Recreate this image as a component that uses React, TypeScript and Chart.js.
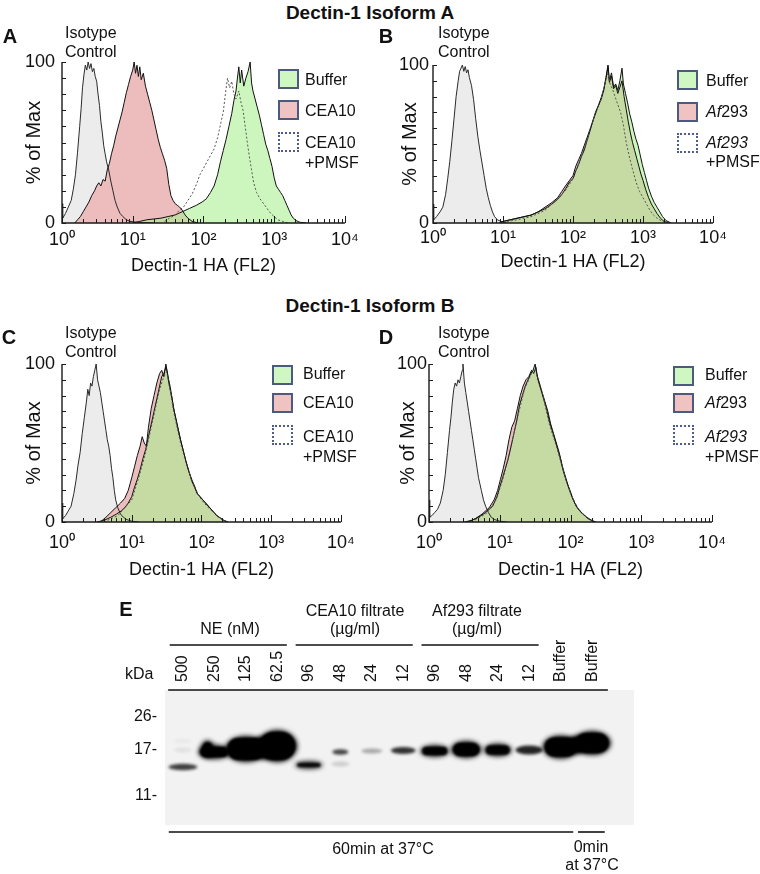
import React, { useEffect, useRef } from 'react';
import { Chart, registerables } from 'chart.js';
Chart.register(...registerables);

const FONT = '"Liberation Sans", Arial, Helvetica, sans-serif';
Chart.defaults.font.family = FONT;

// ---------- Flow cytometry histograms: [log10(FL2), % of Max] ----------
const A_ISO = [[0,12],[0.01,3],[0.05,6],[0.09,10],[0.13,14],[0.16,21],[0.19,30],[0.22,44],[0.25,60],[0.27,71],[0.29,84],[0.31,92],[0.33,98],[0.35,95],[0.37,100],[0.39,96],[0.41,99],[0.43,94],[0.45,96],[0.47,91],[0.49,88],[0.51,80],[0.53,73],[0.55,63],[0.57,56],[0.59,48],[0.61,43],[0.63,38],[0.66,33],[0.69,26],[0.72,20],[0.75,14],[0.78,10],[0.82,6],[0.86,4],[0.91,2],[0.96,1],[1.05,0.5],[1.3,0]];
const A_CEA = [[0.18,0],[0.22,2],[0.26,4],[0.3,7],[0.34,10],[0.38,13],[0.42,17],[0.46,20],[0.49,23],[0.52,25],[0.55,23],[0.58,27],[0.61,26],[0.64,33],[0.67,37],[0.7,43],[0.73,48],[0.76,54],[0.79,59],[0.82,64],[0.85,69],[0.88,75],[0.91,81],[0.94,86],[0.97,91],[1.0,95],[1.02,100],[1.04,93],[1.06,98],[1.08,91],[1.1,97],[1.12,89],[1.15,93],[1.18,85],[1.21,80],[1.24,75],[1.27,70],[1.3,64],[1.33,58],[1.36,52],[1.39,47],[1.42,43],[1.45,39],[1.48,34],[1.51,24],[1.54,17],[1.57,14],[1.6,12],[1.63,11],[1.66,10],[1.7,8],[1.74,5],[1.78,3],[1.84,1],[1.92,0]];
const A_BUF = [[1.0,0],[1.1,1],[1.2,2],[1.3,2.5],[1.4,3],[1.5,4],[1.6,5],[1.7,7],[1.8,9],[1.9,11],[1.98,13],[2.04,15],[2.1,19],[2.15,23],[2.2,30],[2.24,38],[2.28,45],[2.32,52],[2.36,60],[2.4,68],[2.43,76],[2.46,82],[2.48,90],[2.5,97],[2.52,87],[2.54,95],[2.57,85],[2.6,90],[2.63,94],[2.66,100],[2.68,87],[2.7,82],[2.73,77],[2.76,72],[2.79,67],[2.82,61],[2.85,55],[2.88,49],[2.91,45],[2.94,40],[2.97,35],[3.0,28],[3.03,23],[3.06,21],[3.09,19],[3.12,17],[3.15,14],[3.18,11],[3.21,8],[3.24,5],[3.27,3],[3.31,1.5],[3.36,0.5],[3.45,0]];
const A_PMSF = [[1.45,1],[1.52,3],[1.6,5],[1.66,8],[1.72,10],[1.78,14],[1.84,18],[1.9,24],[1.95,30],[2.0,34],[2.05,38],[2.1,42],[2.15,46],[2.2,53],[2.24,61],[2.28,69],[2.31,80],[2.34,90],[2.37,84],[2.4,88],[2.43,80],[2.46,77],[2.5,82],[2.53,75],[2.56,70],[2.59,60],[2.62,50],[2.65,41],[2.68,33],[2.71,25],[2.75,19],[2.8,15],[2.85,12],[2.9,9],[2.95,6],[3.0,4],[3.05,2],[3.12,1],[3.2,0]];

const B_ISO = [[0,12],[0.01,2],[0.05,4],[0.1,7],[0.14,10],[0.18,18],[0.21,28],[0.24,39],[0.27,52],[0.3,66],[0.33,80],[0.36,90],[0.38,96],[0.4,98],[0.42,100],[0.44,96],[0.46,99],[0.48,95],[0.5,97],[0.52,92],[0.55,87],[0.58,78],[0.61,66],[0.64,55],[0.67,46],[0.7,38],[0.73,30],[0.76,22],[0.79,16],[0.82,11],[0.85,7],[0.88,4],[0.92,2],[0.97,1],[1.05,0]];
const B_BUF = [[0.95,0],[1.0,1],[1.1,2],[1.2,3],[1.3,4],[1.4,5],[1.5,7],[1.6,9],[1.7,12],[1.78,15],[1.84,18],[1.9,22],[1.95,26],[2.0,28],[2.04,33],[2.08,37],[2.12,42],[2.16,46],[2.2,52],[2.24,58],[2.28,64],[2.32,70],[2.36,74],[2.4,78],[2.44,84],[2.47,92],[2.5,100],[2.52,90],[2.55,95],[2.58,86],[2.61,88],[2.64,84],[2.67,90],[2.7,98],[2.72,88],[2.75,82],[2.78,76],[2.81,69],[2.84,64],[2.87,58],[2.9,53],[2.93,49],[2.96,43],[2.99,37],[3.02,32],[3.05,27],[3.08,22],[3.12,17],[3.16,13],[3.2,10],[3.24,7],[3.28,4],[3.33,1.5],[3.4,0]];
const B_AF = [[0.95,0],[1.0,1],[1.1,2],[1.2,3],[1.3,4],[1.4,5],[1.5,7],[1.6,10],[1.7,13],[1.78,16],[1.84,20],[1.9,24],[1.95,27],[2.0,30],[2.04,36],[2.08,40],[2.12,44],[2.16,49],[2.2,54],[2.24,59],[2.28,64],[2.32,69],[2.36,74],[2.4,79],[2.44,85],[2.47,91],[2.5,99],[2.52,89],[2.55,93],[2.58,85],[2.61,87],[2.64,82],[2.67,86],[2.7,90],[2.73,80],[2.76,72],[2.79,64],[2.82,57],[2.85,51],[2.88,46],[2.91,41],[2.94,36],[2.97,31],[3.0,27],[3.04,21],[3.08,16],[3.12,12],[3.16,9],[3.2,6],[3.25,3],[3.3,1],[3.38,0]];
const B_PMSF = [[1.0,0.5],[1.2,2],[1.4,4],[1.6,8],[1.75,14],[1.9,21],[2.0,28],[2.1,40],[2.2,52],[2.3,67],[2.4,78],[2.46,89],[2.5,95],[2.53,88],[2.57,84],[2.6,80],[2.64,75],[2.68,70],[2.72,62],[2.76,51],[2.8,43],[2.85,34],[2.9,26],[2.95,20],[3.0,16],[3.05,12],[3.1,8],[3.15,5],[3.2,3],[3.28,1],[3.35,0]];

const C_ISO = [[0,12],[0.01,2],[0.05,4],[0.09,7],[0.13,10],[0.17,18],[0.2,26],[0.23,36],[0.26,44],[0.29,56],[0.32,66],[0.35,76],[0.37,84],[0.39,80],[0.41,88],[0.43,86],[0.45,92],[0.47,96],[0.49,100],[0.51,90],[0.53,86],[0.55,82],[0.57,76],[0.59,70],[0.61,64],[0.63,58],[0.65,52],[0.67,48],[0.69,42],[0.71,34],[0.73,28],[0.75,20],[0.77,14],[0.8,9],[0.84,5],[0.88,3],[0.93,1.5],[1.0,0.5],[1.1,0]];
const C_BUF = [[0.5,0],[0.6,1],[0.7,3],[0.78,5],[0.85,7],[0.9,9],[0.95,12],[1.0,16],[1.04,22],[1.08,27],[1.12,33],[1.16,40],[1.2,46],[1.24,54],[1.28,62],[1.32,70],[1.36,78],[1.4,86],[1.43,92],[1.46,94],[1.49,98],[1.51,95],[1.54,86],[1.57,80],[1.6,72],[1.63,66],[1.66,60],[1.7,52],[1.74,45],[1.78,38],[1.82,32],[1.86,26],[1.9,22],[1.94,18],[1.98,16],[2.02,14],[2.06,12],[2.1,10],[2.14,8],[2.18,6],[2.22,4],[2.27,2.5],[2.32,1],[2.38,0]];
const C_CEA = [[0.55,0],[0.63,3],[0.7,6],[0.77,9],[0.84,12],[0.9,15],[0.95,20],[1.0,28],[1.04,35],[1.08,42],[1.12,48],[1.15,54],[1.18,50],[1.21,48],[1.24,60],[1.28,72],[1.32,80],[1.36,88],[1.4,94],[1.43,96],[1.46,92],[1.49,100],[1.52,92],[1.55,86],[1.58,78],[1.61,70],[1.64,64],[1.67,58],[1.7,52],[1.74,45],[1.78,38],[1.82,32],[1.86,27],[1.9,23],[1.94,18],[1.98,16],[2.02,14],[2.06,12],[2.1,10],[2.14,8],[2.18,6],[2.22,4],[2.27,2.5],[2.32,1],[2.38,0]];
const C_PMSF = [[0.6,0],[0.8,4],[1.0,14],[1.1,28],[1.2,44],[1.3,64],[1.4,84],[1.46,92],[1.5,95],[1.55,84],[1.6,70],[1.7,50],[1.8,34],[1.9,22],[2.0,14],[2.1,9],[2.2,5],[2.3,1.5],[2.38,0]];

const D_ISO = [[0,14],[0.01,3],[0.04,4],[0.08,6],[0.12,8],[0.16,12],[0.2,20],[0.23,30],[0.26,44],[0.29,58],[0.31,66],[0.33,76],[0.35,84],[0.37,88],[0.39,86],[0.41,90],[0.43,88],[0.45,92],[0.47,96],[0.48,100],[0.5,88],[0.52,82],[0.54,76],[0.56,70],[0.58,64],[0.6,58],[0.62,52],[0.64,46],[0.66,40],[0.68,34],[0.7,28],[0.72,24],[0.74,20],[0.77,14],[0.8,10],[0.84,6],[0.88,3],[0.93,1.5],[1.0,0.5],[1.1,0]];
const D_BUF = [[0.5,0],[0.6,1],[0.7,3],[0.8,6],[0.9,10],[0.96,16],[1.0,22],[1.04,28],[1.08,34],[1.12,40],[1.16,48],[1.2,56],[1.24,64],[1.28,74],[1.32,80],[1.36,86],[1.4,90],[1.44,94],[1.47,96],[1.5,100],[1.53,92],[1.56,88],[1.6,82],[1.64,76],[1.68,70],[1.72,62],[1.76,56],[1.8,50],[1.84,44],[1.88,36],[1.92,30],[1.96,24],[2.0,19],[2.04,14],[2.08,10],[2.13,7],[2.18,5],[2.23,3],[2.28,1.5],[2.34,0]];
const D_AF = [[0.55,0],[0.65,2],[0.75,5],[0.85,9],[0.92,14],[0.97,20],[1.01,27],[1.05,34],[1.09,42],[1.13,52],[1.17,60],[1.21,64],[1.25,72],[1.29,80],[1.33,86],[1.37,90],[1.41,92],[1.45,96],[1.48,94],[1.51,98],[1.54,90],[1.58,84],[1.62,78],[1.66,72],[1.7,64],[1.74,58],[1.78,52],[1.82,46],[1.86,40],[1.9,32],[1.94,26],[1.98,21],[2.02,16],[2.06,12],[2.1,9],[2.15,6],[2.2,4],[2.25,2],[2.3,1],[2.36,0]];
const D_PMSF = [[0.6,0],[0.8,5],[0.95,14],[1.05,28],[1.15,46],[1.25,66],[1.35,84],[1.45,94],[1.5,97],[1.55,90],[1.62,78],[1.7,62],[1.8,48],[1.9,32],[2.0,18],[2.1,9],[2.2,4],[2.3,1],[2.36,0]];

const Y_TICKS = [0, 10, 20, 30, 40, 50, 60, 70, 80, 90, 100];
const X_MIN = 1;
const X_MAX = 10000;
const SUP = ['\u2070', '\u00B9', '\u00B2', '\u00B3', '\u2074'];

// ---------- Western blot (panel E) ----------
const LANE_LABELS = ['500', '250', '125', '62.5', '96', '48', '24', '12', '96', '48', '24', '12', 'Buffer', 'Buffer'];
const MARKER_KDA = ['26', '17', '11'];
const MARKER_POS = [27, 60, 106]; // migration units from blot top
const GROUP_RANGES = [[0, 3], [4, 7], [8, 11]];
const TIME_RANGES = [[0, 12], [13, 13]];
// bands: lane, migration, lateral spread (lanes), vertical spread (migration), density
const BAND_LANE = [0, 0, 0, 1, 0.78, 2, 3, 2.55, 4, 5, 5, 6, 7, 8, 9, 10, 11, 12, 13, 12.5];
const BAND_MIG = [77, 60, 51, 62, 59, 59, 56, 58, 75, 62, 74, 61, 60.5, 61, 59.5, 60, 60, 57, 53, 55];
const BAND_SPREAD_X = [0.85, 0.5, 0.5, 0.95, 0.35, 1.25, 1.2, 0.8, 0.8, 0.45, 0.5, 0.6, 0.72, 0.85, 0.9, 0.82, 0.8, 1.08, 1.12, 0.6];
const BAND_SPREAD_Y = [4.5, 3, 2.5, 12, 15, 24, 30, 20, 5.5, 3.5, 3, 3, 5, 10, 15, 11, 7, 21, 22, 16];
const BAND_DENSITY = [0.75, 0.07, 0.04, 1, 1, 1, 1, 1, 0.9, 0.72, 0.15, 0.3, 0.8, 0.95, 1, 0.95, 0.85, 1, 1, 1];

type Pts = number[][];

const flowAxes = {
  id: 'flowAxes',
  afterDatasetsDraw(chart: any) {
    const { ctx, chartArea: a, scales } = chart;
    const xs = scales.x, ys = scales.y;
    ctx.save();
    ctx.strokeStyle = '#1a1a1a';
    ctx.lineWidth = 1.4;
    ctx.beginPath();
    ctx.moveTo(a.left, a.top);
    ctx.lineTo(a.left, a.bottom);
    ctx.lineTo(a.right, a.bottom);
    ctx.stroke();
    ctx.lineWidth = 1;
    ctx.beginPath();
    xs.ticks.forEach((t: any) => {
      const px = Math.round(xs.getPixelForValue(t.value)) + 0.5;
      const lg = Math.log10(t.value);
      const major = Math.abs(lg - Math.round(lg)) < 1e-9;
      const len = major ? 7 : 4;
      ctx.moveTo(px, a.bottom);
      ctx.lineTo(px, a.bottom - len);
    });
    ys.ticks.forEach((t: any) => {
      const py = Math.round(ys.getPixelForValue(t.value)) + 0.5;
      ctx.moveTo(a.left, py);
      ctx.lineTo(a.left + 4, py);
    });
    ctx.stroke();
    ctx.restore();
  },
};

interface FlowProps {
  box: { l: number; t: number; w: number; h: number };
  area: { l: number; t: number; r: number; b: number };
  iso: Pts; treat: Pts; buffer: Pts; pmsf: Pts;
  yTitleX: number; xTitleY: number; yLabelRight: number; xLabelY: number;
}

function FlowPanel(p: FlowProps) {
  const ref = useRef<HTMLCanvasElement>(null);
  useEffect(() => {
    const toXY = (pts: Pts) => pts.map(([lx, y]) => ({ x: Math.pow(10, lx), y }));
    const { box, area } = p;
    const yW = area.l - box.l;
    const xH = box.t + box.h - area.b;
    const chart = new Chart(ref.current as HTMLCanvasElement, {
      type: 'line',
      data: {
        datasets: [
          { label: 'PMSF', data: toXY(p.pmsf), borderColor: '#555', borderWidth: 1, borderDash: [2, 2], fill: false, order: 0 },
          { label: 'Buffer', data: toXY(p.buffer), borderColor: '#111', borderWidth: 1, backgroundColor: 'rgba(172,238,147,0.6)', fill: 'origin', order: 1 },
          { label: 'Treated', data: toXY(p.treat), borderColor: '#111', borderWidth: 1, backgroundColor: '#edbcbc', fill: 'origin', order: 2 },
          { label: 'Isotype', data: toXY(p.iso), borderColor: '#2a2a2a', borderWidth: 1, backgroundColor: '#ececec', fill: 'origin', order: 3 },
        ] as any,
      },
      options: {
        responsive: false,
        animation: false,
        devicePixelRatio: 1,
        layout: { padding: { left: 0, top: area.t - box.t, right: box.l + box.w - area.r, bottom: 0 } },
        elements: { point: { radius: 0 }, line: { tension: 0 } },
        plugins: { legend: { display: false }, tooltip: { enabled: false }, filler: { drawTime: 'beforeDatasetsDraw' } } as any,
        scales: {
          x: {
            type: 'logarithmic', min: X_MIN, max: X_MAX, position: 'bottom',
            afterBuildTicks: (s: any) => {
              const t: any[] = [];
              for (let e = 0; e < 4; e++) for (let k = 1; k < 10; k++) t.push({ value: k * Math.pow(10, e) });
              t.push({ value: X_MAX });
              s.ticks = t;
            },
            afterFit: (s: any) => { s.height = xH; },
            grid: { display: false, drawTicks: false },
            border: { display: false },
            ticks: {
              autoSkip: false, maxRotation: 0, minRotation: 0,
              padding: p.xLabelY - area.b - 10.8,
              color: '#111', font: { family: FONT, size: 18 },
              callback: (v: any) => {
                const lg = Math.log10(Number(v));
                const r = Math.round(lg);
                return Math.abs(lg - r) < 1e-9 ? '10' + SUP[r] : '';
              },
            },
            title: { display: true, text: 'Dectin-1 HA (FL2)', color: '#111', font: { family: FONT, size: 18 }, padding: { top: 0, bottom: box.t + box.h - p.xTitleY - 10.8 } },
          } as any,
          y: {
            type: 'linear', min: 0, max: 100,
            afterBuildTicks: (s: any) => { s.ticks = Y_TICKS.map((v) => ({ value: v })); },
            afterFit: (s: any) => { s.width = yW; },
            grid: { display: false, drawTicks: false },
            border: { display: false },
            ticks: {
              autoSkip: false, padding: area.l - p.yLabelRight, color: '#111', font: { family: FONT, size: 18 },
              callback: (v: any) => (Number(v) === 0 || Number(v) === 100 ? String(v) : ''),
            },
            title: { display: true, text: '% of Max', color: '#111', font: { family: FONT, size: 20 }, padding: { top: p.yTitleX - box.l - 12, bottom: 0 } },
          } as any,
        },
      },
      plugins: [flowAxes],
    });
    return () => chart.destroy();
  }, []);
  return (
    <canvas ref={ref} width={p.box.w} height={p.box.h}
      style={{ position: 'absolute', left: p.box.l, top: p.box.t, width: p.box.w, height: p.box.h }} />
  );
}

const blotPlugin = {
  id: 'blot',
  beforeDatasetsDraw(chart: any) {
    const { ctx, chartArea: a, scales } = chart;
    const xs = scales.x, ys = scales.y;
    ctx.save();
    ctx.fillStyle = '#f2f2f2';
    ctx.fillRect(a.left, a.top, a.right - a.left, a.bottom - a.top);
    ctx.beginPath();
    ctx.rect(a.left, a.top, a.right - a.left, a.bottom - a.top);
    ctx.clip();
    BAND_LANE.forEach((lane, i) => {
      const cx = xs.getPixelForValue(lane);
      const cy = ys.getPixelForValue(BAND_MIG[i]);
      const rx = Math.abs(xs.getPixelForValue(lane + BAND_SPREAD_X[i] / 2) - cx);
      const ry = Math.abs(ys.getPixelForValue(BAND_MIG[i] + BAND_SPREAD_Y[i] / 2) - cy);
      const d = BAND_DENSITY[i];
      ctx.filter = d >= 0.9 ? 'blur(2.6px)' : 'blur(1.8px)';
      ctx.fillStyle = `rgba(0,0,0,${d})`;
      ctx.beginPath();
      ctx.ellipse(cx, cy, rx + 1, ry + 1, 0, 0, Math.PI * 2);
      ctx.fill();
      if (d >= 0.9) {
        ctx.filter = 'blur(1.2px)';
        ctx.beginPath();
        (ctx as any).roundRect(cx - rx + 1, cy - ry + 1, rx * 2 - 2, ry * 2 - 2, Math.max(0, Math.min(ry, rx) - 1));
        ctx.fill();
      }
    });
    ctx.restore();
  },
  afterDraw(chart: any) {
    const { ctx, chartArea: a, scales } = chart;
    const xs = scales.x;
    ctx.save();
    ctx.strokeStyle = '#111';
    ctx.lineWidth = 1.6;
    const hline = (l0: number, l1: number, y: number) => {
      ctx.beginPath();
      ctx.moveTo(xs.getPixelForValue(l0), y);
      ctx.lineTo(xs.getPixelForValue(l1), y);
      ctx.stroke();
    };
    hline(-0.47, LANE_LABELS.length - 0.5, a.top);
    GROUP_RANGES.forEach(([s, e]) => hline(s - 0.42, e + 0.3, a.top - 45));
    TIME_RANGES.forEach(([s, e]) => hline(s - 0.45, e + 0.4, a.bottom + 7));
    ctx.fillStyle = '#111';
    ctx.font = `16px ${FONT}`;
    ctx.textAlign = 'left';
    ctx.textBaseline = 'middle';
    LANE_LABELS.forEach((lab, i) => {
      ctx.save();
      ctx.translate(xs.getPixelForValue(i), a.top - 8);
      ctx.rotate(-Math.PI / 2);
      ctx.fillText(lab, 0, 0);
      ctx.restore();
    });
    ctx.restore();
  },
};

function BlotPanel() {
  const ref = useRef<HTMLCanvasElement>(null);
  const box = { l: 110, t: 600, w: 540, h: 245 };
  const area = { l: 165, t: 690, r: 634, b: 825 };
  useEffect(() => {
    const chart = new Chart(ref.current as HTMLCanvasElement, {
      type: 'scatter',
      data: { datasets: [] },
      options: {
        responsive: false,
        animation: false,
        devicePixelRatio: 1,
        layout: { padding: { left: 0, top: area.t - box.t, right: box.l + box.w - area.r, bottom: box.t + box.h - area.b } },
        plugins: { legend: { display: false }, tooltip: { enabled: false } },
        scales: {
          x: { type: 'linear', display: false, min: -0.57, max: 14.33 },
          y: {
            type: 'linear', min: 0, max: 135, reverse: true,
            afterBuildTicks: (s: any) => { s.ticks = MARKER_POS.map((v) => ({ value: v })); },
            afterFit: (s: any) => { s.width = area.l - box.l; },
            grid: { display: false, drawTicks: false },
            border: { display: false },
            ticks: {
              autoSkip: false, padding: 8, color: '#111', font: { family: FONT, size: 16 },
              callback: (_v: any, i: number) => MARKER_KDA[i] + '-',
            },
          } as any,
        },
      },
      plugins: [blotPlugin],
    });
    return () => chart.destroy();
  }, []);
  return (
    <canvas ref={ref} width={box.w} height={box.h}
      style={{ position: 'absolute', left: box.l, top: box.t, width: box.w, height: box.h }} />
  );
}

function T(props: { x: number; y: number; size?: number; bold?: boolean; left?: boolean; children: any }) {
  const { x, y, size = 16, bold = false, left = false, children } = props;
  return (
    <div style={{
      position: 'absolute', left: x, top: y, transform: left ? 'translate(0,-50%)' : 'translate(-50%,-50%)',
      fontSize: size, fontWeight: bold ? 700 : 400, whiteSpace: 'nowrap', lineHeight: 1, color: '#111', fontFamily: FONT,
    }}>{children}</div>
  );
}

function Swatch(props: { x: number; y: number; kind: 'buffer' | 'treat' | 'pmsf' }) {
  const { x, y, kind } = props;
  const bg = kind === 'buffer' ? '#cff7c2' : kind === 'treat' ? '#f0c3c3' : '#ffffff';
  const border = kind === 'pmsf' ? '2px dotted #4d5c8c' : '2px solid #4d5a80';
  return <div style={{ position: 'absolute', left: x, top: y, width: 21, height: 20, boxSizing: 'border-box', background: bg, border }} />;
}

function Legend(props: { x: number; tops: number[]; textX: number; treat: any; pmsf: any; rows: number[] }) {
  const { x, tops, textX, treat, pmsf, rows } = props;
  return (
    <>
      <Swatch x={x} y={tops[0]} kind="buffer" />
      <Swatch x={x} y={tops[1]} kind="treat" />
      <Swatch x={x} y={tops[2]} kind="pmsf" />
      <T x={textX} y={rows[0]} left>Buffer</T>
      <T x={textX} y={rows[1]} left>{treat}</T>
      <T x={textX} y={rows[2]} left>{pmsf}</T>
      <T x={textX} y={rows[3]} left>+PMSF</T>
    </>
  );
}

export default function App() {
  return (
    <div style={{ position: 'absolute', left: 0, top: 0, width: 760, height: 874, background: '#fff', fontFamily: FONT, overflow: 'hidden' }}>
      <FlowPanel box={{ l: 0, t: 40, w: 365, h: 250 }} area={{ l: 62, t: 62, r: 347, b: 223 }}
        iso={A_ISO} treat={A_CEA} buffer={A_BUF} pmsf={A_PMSF} yTitleX={34} xTitleY={266} yLabelRight={55} xLabelY={240} />
      <FlowPanel box={{ l: 380, t: 40, w: 380, h: 250 }} area={{ l: 433, t: 65, r: 713, b: 223 }}
        iso={B_ISO} treat={B_AF} buffer={B_BUF} pmsf={B_PMSF} yTitleX={410} xTitleY={262} yLabelRight={429} xLabelY={238} />
      <FlowPanel box={{ l: 0, t: 330, w: 365, h: 260 }} area={{ l: 62, t: 364, r: 347, b: 522 }}
        iso={C_ISO} treat={C_CEA} buffer={C_BUF} pmsf={C_PMSF} yTitleX={34} xTitleY={570} yLabelRight={55} xLabelY={543} />
      <FlowPanel box={{ l: 380, t: 330, w: 380, h: 260 }} area={{ l: 429, t: 364, r: 712, b: 522 }}
        iso={D_ISO} treat={D_AF} buffer={D_BUF} pmsf={D_PMSF} yTitleX={408} xTitleY={570} yLabelRight={427} xLabelY={543} />
      <BlotPanel />

      <T x={370} y={12} size={19} bold>Dectin-1 Isoform A</T>
      <T x={370} y={305} size={19} bold>Dectin-1 Isoform B</T>
      <T x={10} y={36} size={20} bold>A</T>
      <T x={386} y={36} size={20} bold>B</T>
      <T x={9} y={337} size={20} bold>C</T>
      <T x={386} y={337} size={20} bold>D</T>
      <T x={126} y={609} size={20} bold>E</T>

      <T x={65} y={33} left>Isotype</T>
      <T x={65} y={52} left>Control</T>
      <T x={438} y={33} left>Isotype</T>
      <T x={438} y={52} left>Control</T>
      <T x={65} y={333} left>Isotype</T>
      <T x={65} y={352} left>Control</T>
      <T x={438} y={333} left>Isotype</T>
      <T x={438} y={352} left>Control</T>

      <Legend x={278} tops={[69, 100, 132]} textX={305} rows={[80, 111, 143, 163]} treat="CEA10" pmsf="CEA10" />
      <Legend x={677} tops={[70, 102, 133]} textX={706} rows={[81, 112, 143, 162]} treat={<><i>Af</i>293</>} pmsf={<i>Af293</i>} />
      <Legend x={272} tops={[365, 393, 425]} textX={303} rows={[374, 403, 437, 457]} treat="CEA10" pmsf="CEA10" />
      <Legend x={673} tops={[366, 393, 425]} textX={705} rows={[375, 403, 437, 457]} treat={<><i>Af</i>293</>} pmsf={<i>Af293</i>} />

      <T x={230} y={629}>NE (nM)</T>
      <T x={355} y={611}>CEA10 filtrate</T>
      <T x={355} y={629}>(µg/ml)</T>
      <T x={477} y={611}>Af293 filtrate</T>
      <T x={477} y={629}>(µg/ml)</T>
      <T x={125} y={674} left>kDa</T>
      <T x={383} y={849}>60min at 37°C</T>
      <T x={591} y={847}>0min</T>
      <T x={592} y={865}>at 37°C</T>
    </div>
  );
}
